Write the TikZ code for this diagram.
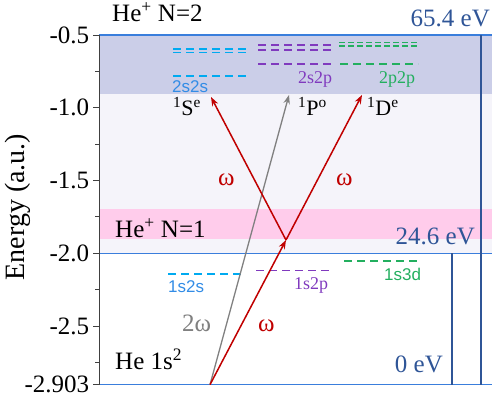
\documentclass[tikz,border=0pt]{standalone}
\usepackage{fontspec}
\newfontfamily\tnr{Liberation Serif}
\newfontfamily\lsans{Liberation Sans}
\usetikzlibrary{arrows.meta}

\definecolor{bandblue}{RGB}{203,206,232}
\definecolor{bandpink}{RGB}{255,204,235}
\definecolor{bandpale}{RGB}{245,244,250}
\definecolor{thrblue}{RGB}{58,126,220}
\definecolor{evblue}{RGB}{47,85,151}
\definecolor{lvlblue}{RGB}{0,170,240}
\definecolor{txtblue}{RGB}{50,140,230}
\definecolor{lvlpurple}{RGB}{128,58,190}
\definecolor{lvlgreen}{RGB}{35,175,95}
\definecolor{arrred}{RGB}{192,0,0}
\definecolor{arrgray}{RGB}{128,128,128}

\tikzset{
    thr/.style={thrblue, line width=1.5pt},
    vline/.style={evblue, line width=1.3pt},
    axis/.style={black!75, line width=0.9pt},
    lvl/.style={line width=1.6pt, dash pattern=on 8pt off 5pt},
    lvlfine/.style={line width=1.6pt, dash pattern=on 6pt off 3pt},
    big/.style={font=\tnr\fontsize{25}{30}\selectfont},
    symb/.style={font=\tnr\fontsize{22}{26}\selectfont},
    small/.style={font=\tnr\fontsize{18}{22}\selectfont},
    smallsf/.style={font=\lsans\fontsize{17}{21}\selectfont},
    photon/.style={->, line width=1.5pt}
}

\begin{document}
\begin{tikzpicture}[x=1pt, y=145.5pt, >={Stealth[length=9pt,width=6.5pt]}]
    \useasboundingbox (0,-3.043) rectangle (492,-0.2595);

    % Bands
    \fill [bandpale] (99,-0.905) rectangle (492,-2.0);
    \fill [bandblue] (99,-0.5) rectangle (492,-0.905);
    \fill [bandpink] (99,-1.696) rectangle (492,-1.904);

    % Thresholds
    \draw [thr] (99,-0.5) -- (492,-0.5);
    \draw [thr] (99,-2.0) -- (492,-2.0);
    \draw [thr] (99,-2.903) -- (492,-2.903);
    \draw [vline] (452,-2.0) -- (452,-2.903);
    \draw [vline] (481,-0.5) -- (481,-2.903);

    % Axis
    \draw [axis] (99,-0.5) -- (99,-2.903);
    \foreach \e in {-0.5,-1.0,-1.5,-2.0,-2.5,-2.903}
        \draw [axis] (99,\e) -- (93,\e) node[left, big, black] {\e};
    \foreach \e in {-0.75,-1.25,-1.75,-2.25,-2.75}
        \draw [axis] (99,\e) -- (95,\e);
    \node [rotate=90, font=\tnr\fontsize{28}{32}\selectfont] (ylab) at (18,-1.682) {Energy (a.u.)};

    % Doubly excited levels
    \draw [lvl, lvlblue] (173,-0.596) -- (250,-0.596);
    \draw [lvl, lvlblue] (173,-0.620) -- (250,-0.620);
    \draw [lvl, lvlblue] (173,-0.782) -- (250,-0.782);
    \draw [lvl, lvlpurple] (258,-0.569) -- (335,-0.569);
    \draw [lvl, lvlpurple] (258,-0.603) -- (335,-0.603);
    \draw [lvl, lvlpurple] (258,-0.699) -- (335,-0.699);
    \draw [lvlfine, lvlgreen] (339,-0.552) -- (418,-0.552);
    \draw [lvlfine, lvlgreen] (339,-0.576) -- (418,-0.576);
    \draw [lvl, lvlgreen] (340,-0.699) -- (418,-0.699);

    % Singly excited levels
    \draw [lvl, lvlblue] (168,-2.143) -- (244,-2.143);
    \draw [lvl, lvlpurple] (256,-2.119) -- (332,-2.119);
    \draw [lvl, lvlgreen] (344,-2.053) -- (418,-2.053);

    % Level labels
    \node [smallsf, txtblue, anchor=base west, inner sep=0pt] (l2s2s) at (172,-0.898) {2s2s};
    \node [small, lvlpurple, anchor=base west, inner sep=0pt] (l2s2p) at (298,-0.830) {2s2p};
    \node [small, lvlgreen, anchor=base west, inner sep=0pt] (l2p2p) at (379,-0.830) {2p2p};
    \node [smallsf, txtblue, anchor=base west, inner sep=0pt] (l1s2s) at (168,-2.271) {1s2s};
    \node [small, lvlpurple, anchor=base west, inner sep=0pt] (l1s2p) at (294,-2.246) {1s2p};
    \node [smallsf, lvlgreen, anchor=base west, inner sep=0pt] (l1s3d) at (384,-2.184) {1s3d};

    % Symmetries
    \node [symb, anchor=base west, inner sep=0pt] (sym1) at (173,-1.05) {\textsuperscript{1}S\textsuperscript{e}};
    \node [symb, anchor=base west, inner sep=0pt] (sym2) at (298,-1.05) {\textsuperscript{1}P\textsuperscript{o}};
    \node [symb, anchor=base west, inner sep=0pt] (sym3) at (367,-1.05) {\textsuperscript{1}D\textsuperscript{e}};

    % Thresholds text
    \node [big, anchor=base west, inner sep=0pt] (n2) at (112,-0.41) {He\textsuperscript{+} N=2};
    \node [big, anchor=base west, inner sep=0pt] (n1) at (115,-1.895) {He\textsuperscript{+} N=1};
    \node [big, anchor=base west, inner sep=0pt] (gs) at (115,-2.796) {He 1s\textsuperscript{2}};
    \node [big, evblue, anchor=base east, inner sep=0pt] (e2) at (490,-0.443) {65.4 eV};
    \node [big, evblue, anchor=base east, inner sep=0pt] (e1) at (475,-1.943) {24.6 eV};
    \node [big, evblue, anchor=base east, inner sep=0pt] (e0) at (443,-2.823) {0 eV};

    % Photons
    \coordinate (start) at (210,-2.903);
    \coordinate (hub) at (286,-1.909);
    \coordinate (tipS) at (211,-0.926);
    \coordinate (tipP) at (289,-0.912);
    \coordinate (tipD) at (362,-0.912);
    \draw [photon, arrgray, line width=1.3pt] (start) -- (tipP);
    \draw [photon, arrred] (start) -- (hub);
    \draw [photon, arrred] (hub) -- (tipS);
    \draw [photon, arrred] (hub) -- (tipD);
    \node [big, arrgray, anchor=base west, inner sep=0pt] (w2) at (182,-2.541) {2ω};
    \node [big, arrred, anchor=base west, inner sep=0pt] (w0) at (258,-2.541) {ω};
    \node [big, arrred, anchor=base west, inner sep=0pt] (wS) at (218,-1.531) {ω};
    \node [big, arrred, anchor=base west, inner sep=0pt] (wD) at (336,-1.531) {ω};
\end{tikzpicture}
\end{document}
